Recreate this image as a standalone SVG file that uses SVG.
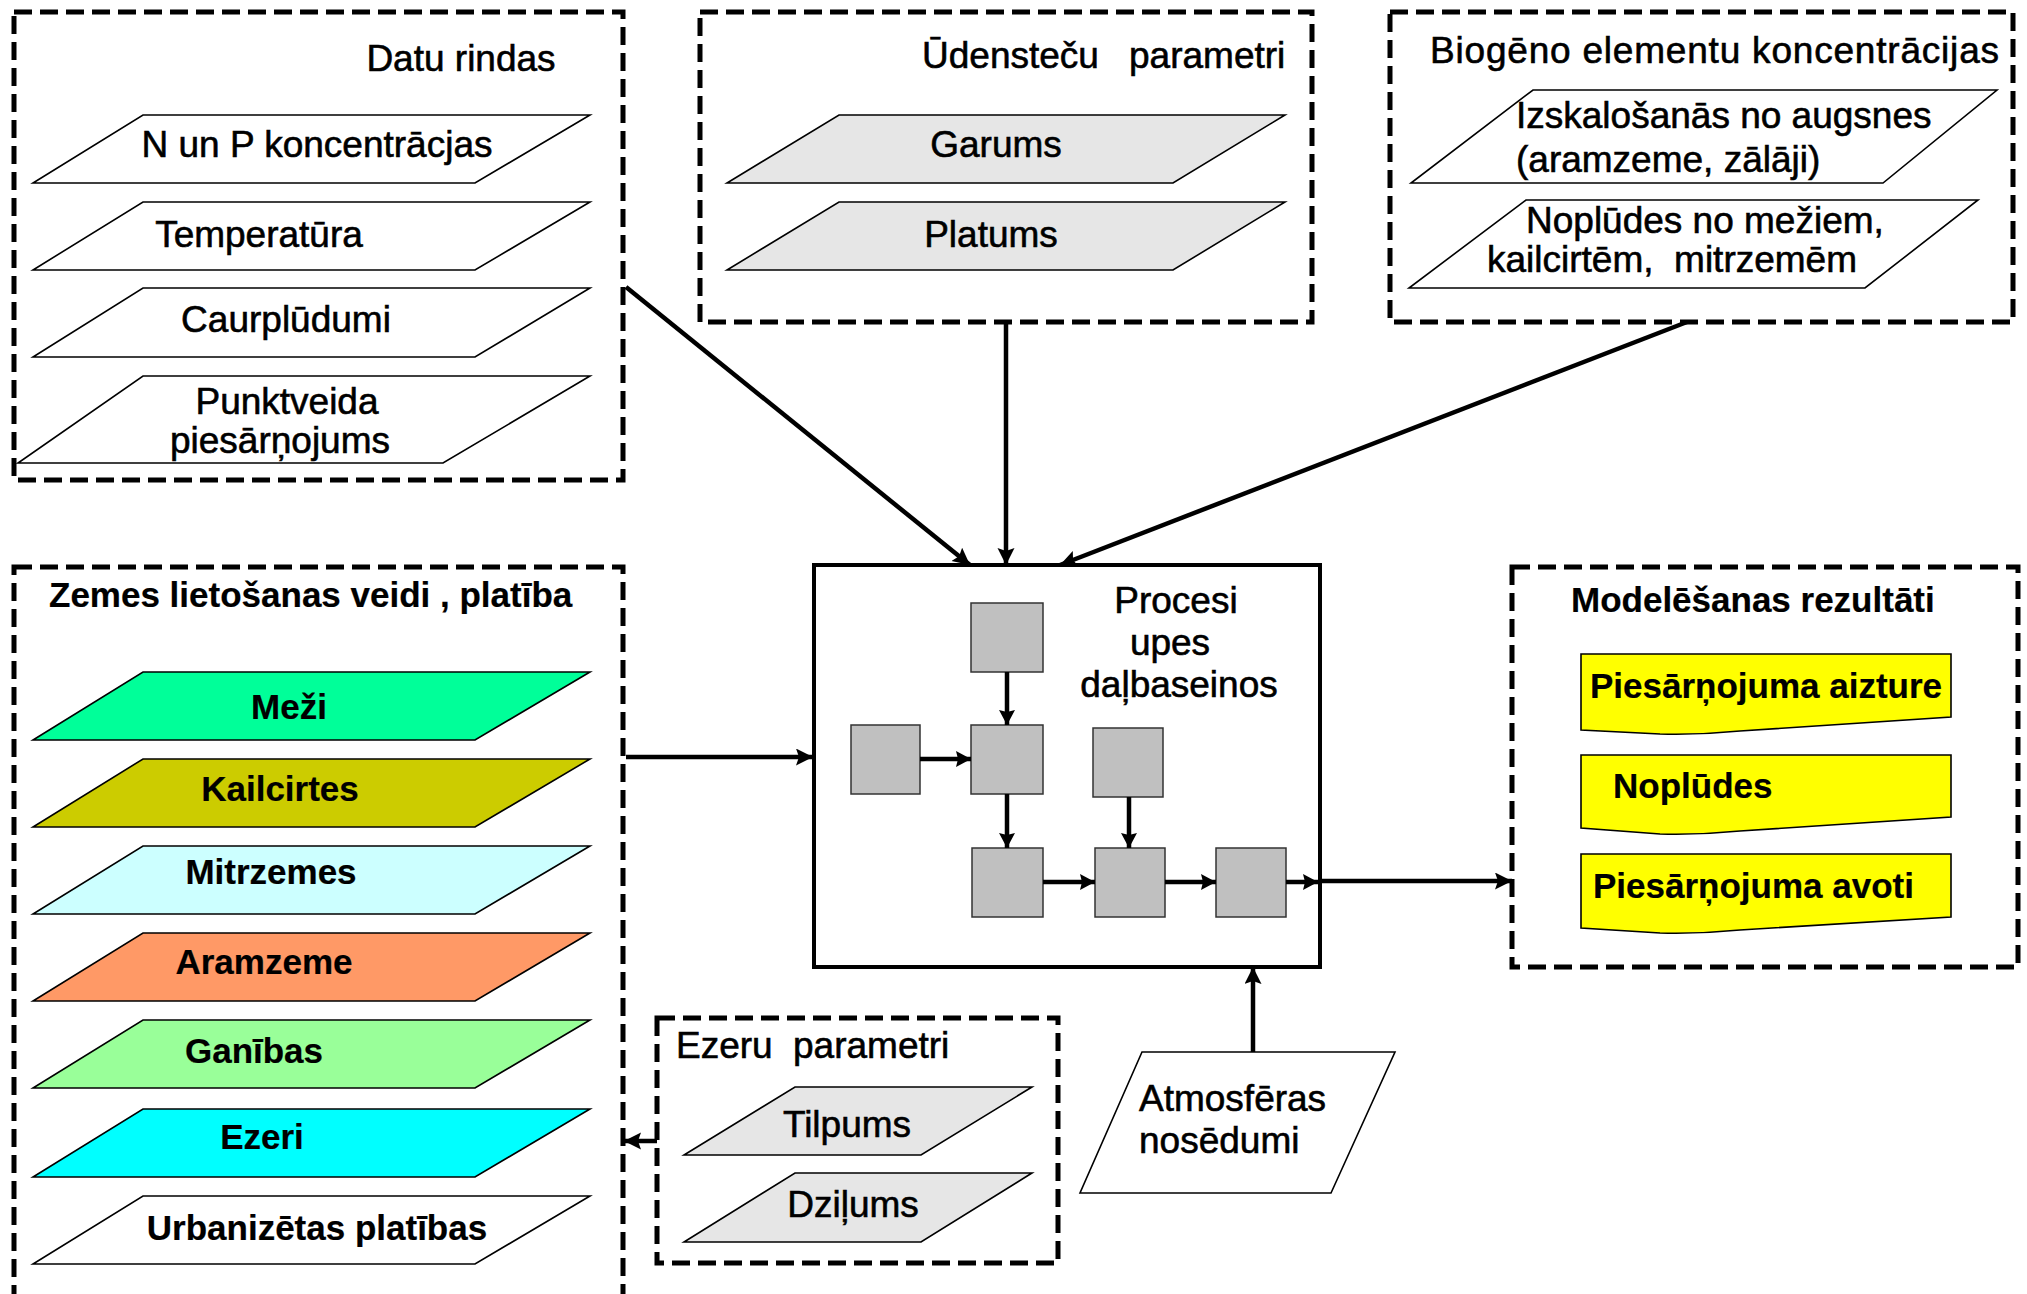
<svg xmlns="http://www.w3.org/2000/svg" width="2027" height="1294" viewBox="0 0 2027 1294">
<defs>
<marker id="ah" markerUnits="userSpaceOnUse" markerWidth="20" markerHeight="20" refX="17" refY="8.5" orient="auto">
<path d="M0,0 L17,8.5 L0,17 L3,8.5 Z" fill="#000"/>
</marker>
<marker id="ahs" markerUnits="userSpaceOnUse" markerWidth="18" markerHeight="18" refX="15" refY="8" orient="auto">
<path d="M0,0 L15,8 L0,16 L2,8 Z" fill="#000"/>
</marker>
</defs>
<style>
text{font-family:"Liberation Sans",Arial,sans-serif;font-size:37px;fill:#000;stroke:#000;stroke-width:0.6}
.b{font-weight:bold;font-size:35px;stroke-width:0.2}
.m{text-anchor:middle}
.grp{fill:none;stroke:#000;stroke-width:5;stroke-dasharray:18 8}
.pg{stroke:#000;stroke-width:1.6;fill:#fff}
.gr{fill:#e6e6e6}
.sq{fill:#c0c0c0;stroke:#333;stroke-width:1.5}
.doc{fill:#ffff00;stroke:#000;stroke-width:1.6}
.c{fill:none;stroke:#000;stroke-width:4.5;marker-end:url(#ah)}
.ci{fill:none;stroke:#000;stroke-width:4.5;marker-end:url(#ahs)}
</style>
<rect width="2027" height="1294" fill="#fff"/>

<g id="datu-rindas">
<rect class="grp" x="14" y="12" width="609" height="468"/>
<text x="461" y="71" class="m">Datu rindas</text>
<polygon class="pg" points="143,115 590,115 475,183 33,183"/>
<text x="317" y="157" class="m">N un P koncentrācjas</text>
<polygon class="pg" points="143,202 590,202 475,270 33,270"/>
<text x="259" y="247" class="m">Temperatūra</text>
<polygon class="pg" points="143,288 590,288 475,357 33,357"/>
<text x="286" y="332" class="m">Caurplūdumi</text>
<polygon class="pg" points="143,376 590,376 443,463 18,463"/>
<text x="287" y="414" class="m">Punktveida</text>
<text x="280" y="453" class="m">piesārņojums</text>
</g>

<g id="udenstecu-parametri">
<rect class="grp" x="700" y="12" width="612" height="310"/>
<text x="922" y="68">Ūdensteču</text>
<text x="1129" y="68">parametri</text>
<polygon class="pg gr" points="839,115 1285,115 1173,183 727,183"/>
<text x="996" y="157" class="m">Garums</text>
<polygon class="pg gr" points="839,202 1285,202 1173,270 727,270"/>
<text x="991" y="247" class="m">Platums</text>
</g>

<g id="biogeno-elementu">
<rect class="grp" x="1390" y="12" width="623" height="310"/>
<text x="1430" y="63" textLength="569">Biogēno elementu koncentrācijas</text>
<polygon class="pg" points="1533,90 1997,90 1883,183 1411,183"/>
<text x="1516" y="128">Izskalošanās no augsnes</text>
<text x="1516" y="172">(aramzeme, zālāji)</text>
<polygon class="pg" points="1526,200 1978,200 1865,288 1409,288"/>
<text x="1526" y="233">Noplūdes no mežiem,</text>
<text x="1487" y="272" xml:space="preserve">kailcirtēm,  mitrzemēm</text>
</g>

<g id="zemes-lietosana">
<rect class="grp" x="14" y="567" width="609" height="760"/>
<text x="49" y="607" class="b">Zemes lietošanas veidi , platība</text>
<polygon class="pg" style="fill:#00ff99" points="143,672 590,672 475,740 33,740"/>
<text x="289" y="719" class="b m">Meži</text>
<polygon class="pg" style="fill:#cccc00" points="143,759 590,759 475,827 33,827"/>
<text x="280" y="801" class="b m">Kailcirtes</text>
<polygon class="pg" style="fill:#ccffff" points="143,846 590,846 475,914 33,914"/>
<text x="271" y="884" class="b m">Mitrzemes</text>
<polygon class="pg" style="fill:#ff9966" points="143,933 590,933 475,1001 33,1001"/>
<text x="264" y="974" class="b m">Aramzeme</text>
<polygon class="pg" style="fill:#99ff99" points="143,1020 590,1020 475,1088 33,1088"/>
<text x="254" y="1063" class="b m">Ganības</text>
<polygon class="pg" style="fill:#00ffff" points="143,1109 590,1109 475,1177 33,1177"/>
<text x="262" y="1149" class="b m">Ezeri</text>
<polygon class="pg" points="143,1196 590,1196 475,1264 33,1264"/>
<text x="317" y="1240" class="b m">Urbanizētas platības</text>
</g>

<g id="procesi">
<rect x="814" y="565" width="506" height="402" fill="#fff" stroke="#000" stroke-width="4"/>
<text x="1176" y="613" class="m">Procesi</text>
<text x="1170" y="655" class="m">upes</text>
<text x="1179" y="697" class="m">daļbaseinos</text>
<rect class="sq" x="971" y="603" width="72" height="69"/>
<rect class="sq" x="851" y="725" width="69" height="69"/>
<rect class="sq" x="971" y="725" width="72" height="69"/>
<rect class="sq" x="1093" y="728" width="70" height="69"/>
<rect class="sq" x="972" y="848" width="71" height="69"/>
<rect class="sq" x="1095" y="848" width="70" height="69"/>
<rect class="sq" x="1216" y="848" width="70" height="69"/>
</g>

<g id="modelesanas-rezultati">
<rect class="grp" x="1512" y="567" width="506" height="400"/>
<text x="1571" y="612" class="b">Modelēšanas rezultāti</text>
<path class="doc" d="M1581,654 H1951 V717 L1740,731 Q1700,735 1660,734 L1581,730 Z"/>
<text x="1590" y="698" class="b">Piesārņojuma aizture</text>
<path class="doc" d="M1581,755 H1951 V817 L1740,831 Q1700,835 1660,834 L1581,828 Z"/>
<text x="1613" y="798" class="b">Noplūdes</text>
<path class="doc" d="M1581,854 H1951 V917 L1740,930 Q1700,934 1660,933 L1581,928 Z"/>
<text x="1593" y="898" class="b">Piesārņojuma avoti</text>
</g>

<g id="ezeru-parametri">
<rect class="grp" x="657" y="1018" width="401" height="245"/>
<text x="676" y="1058">Ezeru</text>
<text x="793" y="1058">parametri</text>
<polygon class="pg gr" points="795,1087 1032,1087 921,1155 684,1155"/>
<text x="847" y="1137" class="m">Tilpums</text>
<polygon class="pg gr" points="795,1173 1032,1173 921,1242 684,1242"/>
<text x="853" y="1217" class="m">Dziļums</text>
</g>

<g id="atmosferas-nosedumi">
<polygon class="pg" points="1142,1052 1395,1052 1331,1193 1080,1193"/>
<text x="1139" y="1111">Atmosfēras</text>
<text x="1139" y="1153">nosēdumi</text>
</g>

<g id="connectors">
<path class="c" d="M626,287 L970,565"/>
<path class="c" d="M1006,322 L1006,565"/>
<path class="c" d="M1687,322 L1060,565"/>
<path class="c" d="M626,757 L813,757"/>
<path class="c" d="M657,1141 L624,1141"/>
<path class="c" d="M1253,1052 L1253,967"/>
<path class="c" d="M1320,881 L1512,881"/>
<path class="ci" d="M1007,672 L1007,725"/>
<path class="ci" d="M920,759 L971,759"/>
<path class="ci" d="M1007,794 L1007,848"/>
<path class="ci" d="M1129,797 L1129,848"/>
<path class="ci" d="M1043,882 L1095,882"/>
<path class="ci" d="M1165,882 L1216,882"/>
<path class="ci" d="M1286,882 L1318,882"/>
</g>
</svg>
